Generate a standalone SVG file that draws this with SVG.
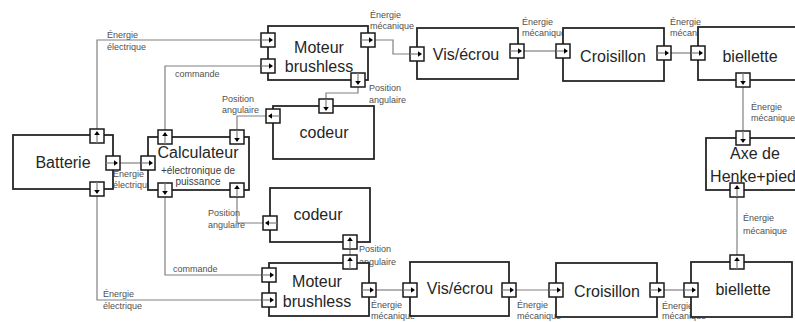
<svg xmlns="http://www.w3.org/2000/svg" xmlns:xlink="http://www.w3.org/1999/xlink" width="795" height="322" viewBox="0 0 795 322">
<style>
.box{fill:#fff;stroke:#262626;stroke-width:1.8}
.wire{fill:none;stroke:#808080;stroke-width:1.2}
.t{font-family:"Liberation Sans",Arial,sans-serif;font-size:16px;fill:#262626;text-anchor:middle}
.ts{font-family:"Liberation Sans",Arial,sans-serif;font-size:10px;fill:#404040;text-anchor:middle}
.lb{font-family:"Liberation Sans",Arial,sans-serif;font-size:9px;fill:#505050}
</style>
<defs>
<g id="port">
<rect x="-7" y="-7" width="14" height="14" fill="#fff" stroke="#1a1a1a" stroke-width="1.5"/>
<line x1="-7" y1="0" x2="2" y2="0" stroke="#808080" stroke-width="1.2"/>
<polygon points="5,0 1,-2.8 1,2.8" fill="#000"/>
</g>
</defs>
<rect width="795" height="322" fill="#fff"/>
<g id="connectors">
<path class="wire" d="M97,129 V40 H261"/>
<path class="wire" d="M120,163 H141"/>
<path class="wire" d="M97,196 V300 H262"/>
<path class="wire" d="M165,130 V66 H261"/>
<path class="wire" d="M165,197 V275 H262"/>
<path class="wire" d="M266,116 H237 V130"/>
<path class="wire" d="M263,223 H237 V197"/>
<path class="wire" d="M358,87 V93 H326 V99"/>
<path class="wire" d="M350,255 V249"/>
<path class="wire" d="M375,40 H393 V54 H410"/>
<path class="wire" d="M524,51 H556"/>
<path class="wire" d="M671,53 H691"/>
<path class="wire" d="M743,87 V131"/>
<path class="wire" d="M737,255 V197"/>
<path class="wire" d="M376,290 H403"/>
<path class="wire" d="M516,290 H549"/>
<path class="wire" d="M664,290 H684"/>
</g>
<g id="labels">
<text class="lb" x="107" y="38">Énergie</text><text class="lb" x="107" y="50">électrique</text>
<text class="lb" x="175" y="77">commande</text>
<text class="lb" x="222" y="102">Position</text><text class="lb" x="222" y="113">angulaire</text>
<text class="lb" x="113" y="177">Énergie</text><text class="lb" x="113" y="188">électrique</text>
<text class="lb" x="369" y="91">Position</text><text class="lb" x="369" y="103">angulaire</text>
<text class="lb" x="208" y="216">Position</text><text class="lb" x="208" y="228">angulaire</text>
<text class="lb" x="173" y="272">commande</text>
<text class="lb" x="103" y="297">Énergie</text><text class="lb" x="103" y="309">électrique</text>
<text class="lb" x="359" y="252">Position</text><text class="lb" x="359" y="265">angulaire</text>
<text class="lb" x="370" y="18">Énergie</text><text class="lb" x="370" y="29">mécanique</text>
<text class="lb" x="522" y="25">Énergie</text><text class="lb" x="522" y="36">mécanique</text>
<text class="lb" x="670" y="25">Énergie</text><text class="lb" x="670" y="36">mécanique</text>
<text class="lb" x="751" y="110">Énergie</text><text class="lb" x="751" y="121">mécanique</text>
<text class="lb" x="743" y="221">Énergie</text><text class="lb" x="743" y="234">mécanique</text>
<text class="lb" x="371" y="308">Énergie</text><text class="lb" x="371" y="319">mécanique</text>
<text class="lb" x="517" y="308">Énergie</text><text class="lb" x="517" y="319">mécanique</text>
<text class="lb" x="662" y="309">Énergie</text><text class="lb" x="662" y="319">mécanique</text>
</g>
<g id="batterie">
<rect class="box" x="13" y="135" width="100" height="54"/>
<text class="t" x="63" y="168">Batterie</text>
<use xlink:href="#port" transform="translate(97,136) rotate(-90)"/>
<use xlink:href="#port" transform="translate(113,163)"/>
<use xlink:href="#port" transform="translate(97,189) rotate(90)"/>
</g>
<g id="calculateur">
<rect class="box" x="148" y="137" width="101" height="53"/>
<text class="t" x="198" y="158">Calculateur</text>
<text class="ts" x="198" y="174">+électronique de</text>
<text class="ts" x="198" y="185">puissance</text>
<use xlink:href="#port" transform="translate(148,163)"/>
<use xlink:href="#port" transform="translate(165,137) rotate(-90)"/>
<use xlink:href="#port" transform="translate(237,137) rotate(90)"/>
<use xlink:href="#port" transform="translate(165,190) rotate(90)"/>
<use xlink:href="#port" transform="translate(237,190) rotate(-90)"/>
</g>
<g id="moteur1">
<rect class="box" x="268" y="26" width="100" height="54"/>
<text class="t" x="319" y="53">Moteur</text>
<text class="t" x="319" y="72">brushless</text>
<use xlink:href="#port" transform="translate(268,40)"/>
<use xlink:href="#port" transform="translate(268,66)"/>
<use xlink:href="#port" transform="translate(368,40)"/>
<use xlink:href="#port" transform="translate(358,80) rotate(90)"/>
</g>
<g id="codeur1">
<rect class="box" x="273" y="106" width="101" height="53"/>
<text class="t" x="324" y="138">codeur</text>
<use xlink:href="#port" transform="translate(273,116) rotate(180)"/>
<use xlink:href="#port" transform="translate(326,106) rotate(90)"/>
</g>
<g id="vis1">
<rect class="box" x="417" y="28" width="101" height="51"/>
<text class="t" x="466" y="60">Vis/écrou</text>
<use xlink:href="#port" transform="translate(417,54)"/>
<use xlink:href="#port" transform="translate(517,51)"/>
</g>
<g id="croisillon1">
<rect class="box" x="563" y="28" width="101" height="53"/>
<text class="t" x="613" y="62">Croisillon</text>
<use xlink:href="#port" transform="translate(563,51)"/>
<use xlink:href="#port" transform="translate(664,53)"/>
</g>
<g id="biellette1">
<rect class="box" x="698" y="27" width="110" height="53"/>
<text class="t" x="750" y="62">biellette</text>
<use xlink:href="#port" transform="translate(698,53)"/>
<use xlink:href="#port" transform="translate(743,80) rotate(90)"/>
</g>
<g id="axe">
<rect class="box" x="706" y="138" width="100" height="52"/>
<text class="t" x="755" y="159">Axe de</text>
<text class="t" x="753" y="182">Henke+pied</text>
<use xlink:href="#port" transform="translate(743,138) rotate(90)"/>
<use xlink:href="#port" transform="translate(737,190) rotate(-90)"/>
</g>
<g id="codeur2">
<rect class="box" x="270" y="188" width="100" height="54"/>
<text class="t" x="318" y="220">codeur</text>
<use xlink:href="#port" transform="translate(270,223) rotate(180)"/>
<use xlink:href="#port" transform="translate(350,242) rotate(-90)"/>
</g>
<g id="moteur2">
<rect class="box" x="269" y="263" width="100" height="53"/>
<text class="t" x="317" y="287">Moteur</text>
<text class="t" x="317" y="307">brushless</text>
<use xlink:href="#port" transform="translate(269,275)"/>
<use xlink:href="#port" transform="translate(269,300)"/>
<use xlink:href="#port" transform="translate(369,290)"/>
<use xlink:href="#port" transform="translate(350,262) rotate(-90)"/>
</g>
<g id="vis2">
<rect class="box" x="410" y="262" width="99" height="54"/>
<text class="t" x="460" y="294">Vis/écrou</text>
<use xlink:href="#port" transform="translate(410,290)"/>
<use xlink:href="#port" transform="translate(509,290)"/>
</g>
<g id="croisillon2">
<rect class="box" x="556" y="263" width="101" height="54"/>
<text class="t" x="607" y="297">Croisillon</text>
<use xlink:href="#port" transform="translate(556,290)"/>
<use xlink:href="#port" transform="translate(657,290)"/>
</g>
<g id="biellette2">
<rect class="box" x="691" y="262" width="101" height="55"/>
<text class="t" x="743" y="295">biellette</text>
<use xlink:href="#port" transform="translate(691,290)"/>
<use xlink:href="#port" transform="translate(737,262) rotate(-90)"/>
</g>
</svg>
